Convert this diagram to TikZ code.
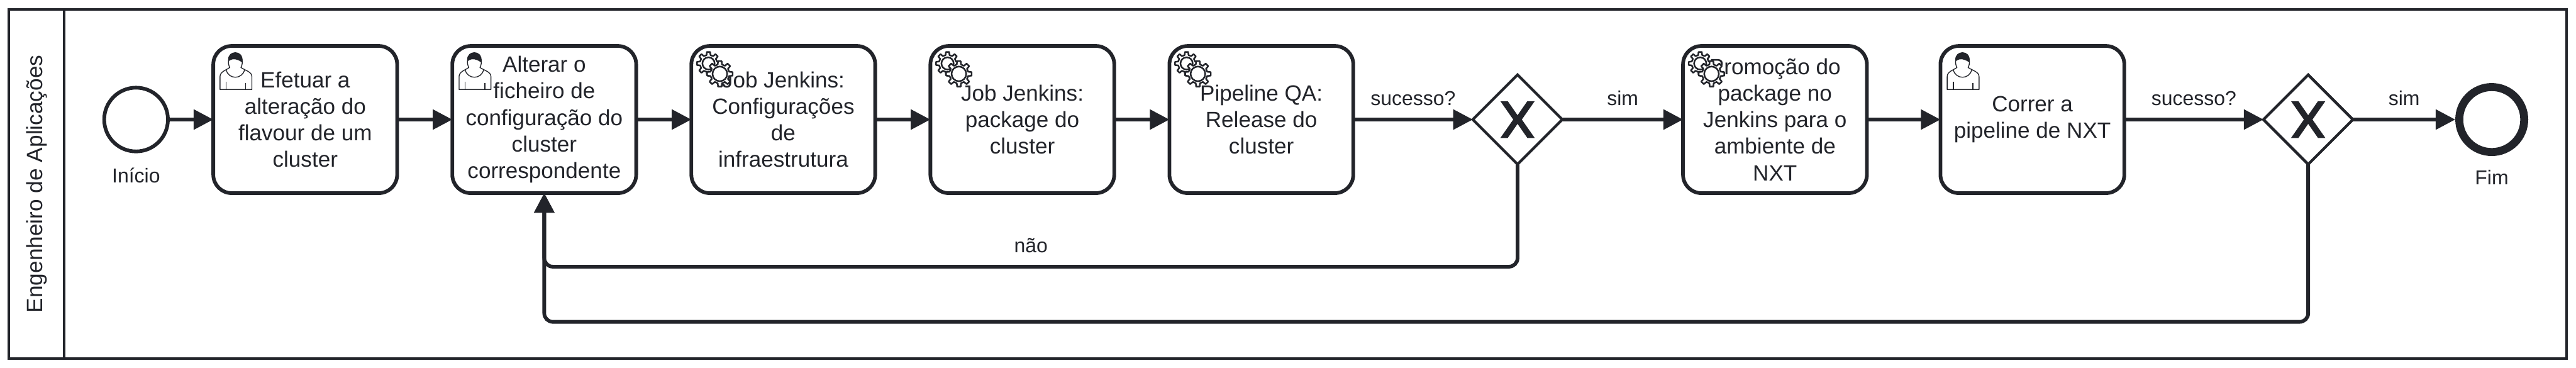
\documentclass[tikz,border=0pt]{standalone}
\usepackage{fontspec}
\setmainfont{Liberation Sans}
\usepackage{tikz}
\usetikzlibrary{positioning,arrows.meta,shapes.geometric}
\definecolor{bpmndark}{RGB}{34,36,42}
\tikzset{
  poolbox/.style  = {draw=bpmndark, line width=2pt, minimum width=2087pt, minimum height=285pt, inner sep=0pt, outer sep=0pt},
  lanehead/.style = {draw=bpmndark, line width=2pt, minimum width=285pt, minimum height=45.5pt, inner sep=0pt, outer sep=0pt, text=bpmndark, font=\fontsize{18.1}{21.65}\selectfont},
  task/.style     = {draw=bpmndark, line width=3pt, rounded corners=15pt, minimum width=150pt, minimum height=120pt, inner sep=0pt, outer sep=0pt, align=center, text=bpmndark, font=\fontsize{18}{21.65}\selectfont},
  startev/.style  = {draw=bpmndark, line width=3pt, circle, minimum size=52pt, inner sep=0pt, outer sep=0pt},
  endev/.style    = {draw=bpmndark, line width=6.5pt, circle, minimum size=53pt, inner sep=0pt},
  gateway/.style  = {draw=bpmndark, line width=2.2pt, diamond, aspect=1, minimum width=73pt, minimum height=73pt, inner sep=0pt, outer sep=0pt},
  lbl/.style      = {text=bpmndark, inner sep=0pt, font=\fontsize{16.4}{20}\selectfont},
  flow/.style     = {-{Triangle[length=16pt,width=16pt]}, line width=3pt, draw=bpmndark},
  loopflow/.style = {flow, rounded corners=7pt},
  thinline/.style = {draw=bpmndark, line width=.7pt, line join=round},
  gearline/.style = {draw=bpmndark, fill=white, line width=1.3pt, line join=round},
}
% icons are given in pixels from the corner of the task
\newcommand{\usericon}[1]{
  \begin{scope}[shift={(#1.north west)},x=.5pt,y=-.5pt]
    \draw[thinline, fill=white] (11,71) -- (11,50) .. controls (11,42) and (20,40) .. (27,35) .. controls (23,29) and (23,15) .. (36,11) .. controls (49,15) and (49,29) .. (45,35) .. controls (52,40) and (63,42) .. (63,50) -- (63,71) -- cycle;
    \draw[thinline, fill=bpmndark] (25,24) .. controls (24,14) and (31,11) .. (36,11) .. controls (42,11) and (48,15) .. (47,26) .. controls (42,22) and (32,18) .. (25,24) -- cycle;
    \draw[thinline] (21,39) .. controls (25,55) and (47,55) .. (51,39);
    \draw[thinline] (21,58) -- (21,71) (53,60) -- (53,71);
  \end{scope}
}
\newcommand{\gearshape}[3]{
  \draw[gearline, shift={(#1,#2)}] (-13:#3*.74pt) \foreach \a in {0,45,...,315} { -- (\a-13:#3*.74pt) -- (\a-8:#3*1pt) -- (\a+8:#3*1pt) -- (\a+13:#3*.74pt) } -- cycle;
}
\newcommand{\gearicon}[1]{
  \begin{scope}[shift={(#1.north west)},x=.5pt,y=-.5pt]
    \gearshape{28}{28.5}{9.5}
    \draw[gearline, fill=none] (28,28.5) circle (5pt);
    \gearshape{46.5}{45.5}{10.5}
    \draw[gearline] (46.5,45.5) circle (6pt);
  \end{scope}
}
\newcommand{\gatewayx}[1]{
  \fill[bpmndark, shift={(#1.center)}, x=.5pt, y=-.5pt] (-28,-30) -- (-16,-30) -- (0,-7) -- (16,-30) -- (28,-30) -- (7,0) -- (28,30) -- (16,30) -- (0,7) -- (-16,30) -- (-28,30) -- (-7,0) -- cycle;
}

\begin{document}
\begin{tikzpicture}
  \useasboundingbox (0,0) rectangle (2101.5pt,-300pt);
  \node[poolbox, anchor=north west] (pool) at (7pt,-7.5pt) {};
  \node[lanehead, rotate=90, anchor=north east] (lane) at (pool.north west) {Engenheiro de Aplica\c{c}\~oes};

  \node[startev] (start) at (111pt,-97.5pt) {};
  \node[lbl, below=13.5pt of start] (startlbl) {In\'icio};
  \node[task, right=37pt of start] (change) {Efetuar a\\altera\c{c}\~ao do\\flavour de um\\cluster};
  \node[task, right=45pt of change] (config) {Alterar o\\ficheiro de\\configura\c{c}\~ao do\\cluster\\correspondente};
  \node[task, right=45pt of config] (infra) {Job Jenkins:\\Configura\c{c}\~oes\\de\\infraestrutura};
  \node[task, right=45pt of infra] (package) {Job Jenkins:\\package do\\cluster};
  \node[task, right=45pt of package] (release) {Pipeline QA:\\Release do\\cluster};
  \node[gateway, right=97.5pt of release] (gwqa) {};
  \node[task, right=98.5pt of gwqa] (promote) {Promo\c{c}\~ao do\\package no\\Jenkins para o\\ambiente de\\NXT};
  \node[task, right=60pt of promote] (runnxt) {Correr a\\pipeline de NXT};
  \node[gateway, right=113.5pt of runnxt] (gwnxt) {};
  \node[endev, right=83.5pt of gwnxt] (finish) {};
  \node[lbl, below=11pt of finish] (finishlbl) {Fim};

  \coordinate (loopno) at (0,-217.5pt);
  \coordinate (loopyes) at (0,-262.5pt);

  \usericon{change}
  \usericon{config}
  \gearicon{infra}
  \gearicon{package}
  \gearicon{release}
  \gearicon{promote}
  \usericon{runnxt}
  \gatewayx{gwqa}
  \gatewayx{gwnxt}

  \draw[flow] (start) -- (change);
  \draw[flow] (change) -- (config);
  \draw[flow] (config) -- (infra);
  \draw[flow] (infra) -- (package);
  \draw[flow] (package) -- (release);
  \draw[flow] (release) -- node[lbl, above=10pt] (lblqa) {sucesso?} (gwqa);
  \draw[flow] (gwqa) -- node[lbl, above=10pt] (lblsim) {sim} (promote);
  \draw[flow] (promote) -- (runnxt);
  \draw[flow] (runnxt) -- node[lbl, above=10pt] (lblnxt) {sucesso?} (gwnxt);
  \draw[flow] (gwnxt) -- node[lbl, above=10pt] (lblfim) {sim} (finish);
  \draw[loopflow] (gwqa.south) -- (gwqa.south |- loopno) -- node[lbl, above=10pt] (lblnao) {n\~ao} (config.south |- loopno) -- (config.south);
  \draw[loopflow] (gwnxt.south) -- (gwnxt.south |- loopyes) -- (config.south |- loopyes) -- (config.south);
\end{tikzpicture}
\end{document}
